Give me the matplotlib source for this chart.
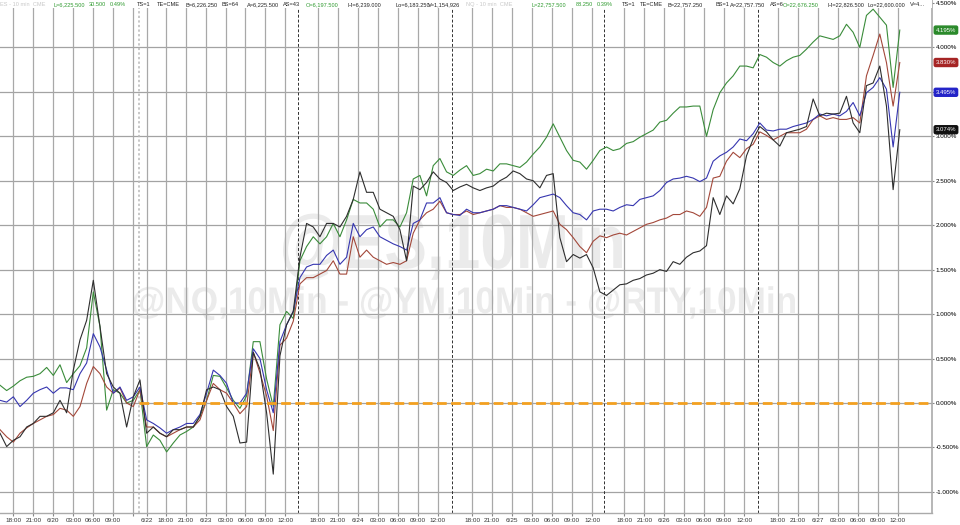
import numpy as np
import matplotlib
matplotlib.use("Agg")
import matplotlib.pyplot as plt
from matplotlib import font_manager
from matplotlib.patches import Rectangle, PathPatch
from matplotlib.textpath import TextPath
from matplotlib.transforms import Affine2D, IdentityTransform

# % change vs. reference, one reading per hour (6 ten-minute bars)
nq_green = [0.20, 0.14, 0.19, 0.25, 0.29, 0.30, 0.33, 0.40, 0.31, 0.43, 0.23, 0.33, 0.42, 0.62, 1.25, 0.86,
            -0.08, 0.15, 0.11, 0.00, 0.03, 0.15, -0.49, -0.36, -0.42, -0.55, -0.45, -0.36, -0.32, -0.27, -0.15, 0.03,
            0.31, 0.30, 0.17, 0.03, -0.06, 0.08, 0.69, 0.69, 0.27, -0.04, 0.88, 1.03, 0.95, 1.60, 1.76, 1.87,
            1.79, 1.87, 2.02, 1.87, 2.06, 2.29, 2.25, 2.25, 2.18, 1.98, 2.06, 2.06, 1.98, 2.14, 2.52, 2.56,
            2.33, 2.67, 2.75, 2.60, 2.56, 2.62, 2.67, 2.56, 2.58, 2.63, 2.61, 2.69, 2.69, 2.67, 2.65, 2.71,
            2.80, 2.88, 2.99, 3.14, 2.99, 2.84, 2.73, 2.71, 2.63, 2.73, 2.84, 2.88, 2.84, 2.86, 2.92, 2.94,
            2.99, 3.03, 3.07, 3.16, 3.18, 3.26, 3.33, 3.33, 3.34, 3.34, 3.00, 3.30, 3.49, 3.60, 3.68, 3.79,
            3.79, 3.77, 3.92, 3.89, 3.83, 3.79, 3.85, 3.89, 3.91, 3.98, 4.06, 4.13, 4.11, 4.09, 4.13, 4.26,
            4.17, 4.00, 4.36, 4.43, 4.34, 4.25, 3.55, 4.195]
ym_blue = [0.03, 0.01, 0.07, -0.04, 0.03, 0.11, 0.15, 0.18, 0.11, 0.17, 0.17, 0.15, 0.33, 0.45, 0.78, 0.63,
           0.37, 0.11, 0.18, 0.03, 0.07, 0.18, -0.19, -0.23, -0.28, -0.34, -0.30, -0.27, -0.23, -0.23, -0.13, 0.11,
           0.37, 0.31, 0.22, 0.00, 0.00, 0.11, 0.61, 0.50, 0.15, -0.11, 0.69, 0.88, 1.03, 1.41, 1.53, 1.56,
           1.56, 1.66, 1.72, 1.56, 1.64, 2.02, 1.87, 1.95, 1.98, 1.87, 1.83, 1.79, 1.76, 1.72, 2.02, 2.06,
           2.25, 2.25, 2.31, 2.14, 2.12, 2.11, 2.18, 2.14, 2.14, 2.16, 2.18, 2.22, 2.22, 2.20, 2.18, 2.16,
           2.23, 2.31, 2.33, 2.35, 2.31, 2.22, 2.14, 2.12, 2.06, 2.16, 2.18, 2.18, 2.16, 2.20, 2.23, 2.22,
           2.29, 2.31, 2.33, 2.39, 2.48, 2.52, 2.53, 2.55, 2.53, 2.49, 2.53, 2.72, 2.78, 2.82, 2.88, 2.97,
           2.95, 3.03, 3.15, 3.07, 3.06, 3.08, 3.08, 3.11, 3.13, 3.15, 3.19, 3.25, 3.23, 3.25, 3.23, 3.28,
           3.38, 3.23, 3.49, 3.55, 3.66, 3.53, 2.88, 3.495]
es_red = [-0.30, -0.38, -0.44, -0.34, -0.28, -0.23, -0.19, -0.15, -0.13, -0.06, -0.08, -0.15, -0.04, 0.22, 0.41, 0.33,
          0.18, 0.11, 0.17, 0.00, -0.04, 0.15, -0.27, -0.27, -0.34, -0.38, -0.34, -0.30, -0.27, -0.27, -0.19, 0.03,
          0.22, 0.15, 0.11, 0.00, -0.12, -0.04, 0.57, 0.34, 0.08, -0.31, 0.65, 0.73, 0.92, 1.34, 1.41, 1.41,
          1.45, 1.49, 1.60, 1.45, 1.45, 1.87, 1.64, 1.72, 1.64, 1.60, 1.56, 1.58, 1.56, 1.60, 1.91, 2.06,
          2.14, 2.18, 2.27, 2.14, 2.12, 2.12, 2.16, 2.12, 2.14, 2.16, 2.18, 2.22, 2.20, 2.20, 2.18, 2.14,
          2.10, 2.12, 2.14, 2.16, 2.01, 1.95, 1.86, 1.76, 1.69, 1.82, 1.88, 1.86, 1.89, 1.91, 1.89, 1.93,
          1.97, 2.01, 2.03, 2.06, 2.08, 2.12, 2.12, 2.16, 2.14, 2.10, 2.20, 2.53, 2.55, 2.72, 2.82, 2.76,
          2.86, 2.91, 3.05, 3.01, 2.96, 3.00, 3.04, 3.04, 3.04, 3.08, 3.19, 3.23, 3.19, 3.21, 3.19, 3.19,
          3.21, 3.15, 3.68, 3.91, 4.15, 3.83, 3.34, 3.83]
rty_black = [-0.34, -0.49, -0.42, -0.38, -0.27, -0.23, -0.15, -0.15, -0.11, 0.03, -0.11, 0.37, 0.71, 0.93, 1.38, 0.86,
             0.33, 0.18, 0.11, -0.27, 0.07, 0.26, -0.34, -0.27, -0.34, -0.38, -0.30, -0.30, -0.27, -0.27, -0.15, 0.15,
             0.18, 0.15, -0.04, -0.15, -0.45, -0.44, 0.57, 0.38, -0.11, -0.80, 0.53, 0.88, 1.03, 1.64, 2.02, 1.98,
             1.87, 2.02, 2.02, 1.98, 2.10, 2.29, 2.60, 2.37, 2.37, 2.18, 2.14, 2.10, 1.95, 1.60, 2.44, 2.40,
             2.48, 2.60, 2.52, 2.48, 2.39, 2.43, 2.46, 2.42, 2.39, 2.42, 2.44, 2.50, 2.54, 2.61, 2.58, 2.52,
             2.50, 2.42, 2.56, 2.58, 1.86, 1.59, 1.67, 1.63, 1.67, 1.52, 1.25, 1.21, 1.27, 1.33, 1.34, 1.38,
             1.40, 1.44, 1.46, 1.50, 1.48, 1.59, 1.56, 1.64, 1.69, 1.71, 1.77, 2.31, 2.12, 2.33, 2.24, 2.41,
             2.78, 2.97, 3.11, 3.05, 2.96, 2.89, 3.04, 3.06, 3.08, 3.11, 3.42, 3.23, 3.26, 3.25, 3.26, 3.45,
             3.15, 3.04, 3.57, 3.60, 3.79, 3.34, 2.40, 3.074]

bars_per_sample = 6
bars = np.arange(len(nq_green)) * bars_per_sample

# x axis (10-minute bar index)
tick_bars = [12, 30, 48, 66, 84, 102, 120, 132, 149, 167, 185, 203, 221, 239, 257,
             286, 304, 322, 340, 358, 376, 394, 425, 443, 461, 479, 497, 515, 533,
             562, 580, 598, 616, 634, 652, 670, 700, 718, 736, 754, 772, 790, 808]
tick_labels = ['18:00', '21:00', '6/20', '03:00', '06:00', '09:00', '', '6/22', '18:00', '21:00', '6/23',
               '03:00', '06:00', '09:00', '12:00', '18:00', '21:00', '6/24', '03:00', '06:00', '09:00', '12:00',
               '18:00', '21:00', '6/25', '03:00', '06:00', '09:00', '12:00', '18:00', '21:00', '6/26',
               '03:00', '06:00', '09:00', '12:00', '18:00', '21:00', '6/27', '03:00', '06:00', '09:00', '12:00']
session_breaks = [125, 268, 407, 544, 682]
y_ticks = [-1.0, -0.5, 0.0, 0.5, 1.0, 1.5, 2.0, 2.5, 3.0, 3.5, 4.0, 4.5]

header_left = [("ES - 10 min  CME", '#c8c8c8'), ("L=6,225.500", 'g'), ("30.500", 'g'), ("0.49%", 'g'),
               ("TS=1", 'k'), ("TE=CME", 'k'), ("B=6,226.250", 'k'), ("BS=64", 'k'), ("A=6,225.500", 'k'),
               ("AS=43", 'k'), ("O=6,197.500", 'g'), ("Hi=6,239.000", 'k'), ("Lo=6,183.250", 'k'),
               ("V=1,154,926", 'k'), ("NQ - 10 min  CME", '#c8c8c8')]
header_left_x = [0, 53, 89, 110, 137, 157, 185, 222, 247, 283, 306, 347, 395, 428, 466]
header_right = [("L=22,757.500", 'g'), ("88.250", 'g'), ("0.39%", 'g'), ("TS=1", 'k'), ("TE=CME", 'k'),
                ("B=22,757.250", 'k'), ("BS=1", 'k'), ("A=22,757.750", 'k'), ("AS=6", 'k'),
                ("O=22,676.250", 'g'), ("Hi=22,826.500", 'k'), ("Lo=22,600.000", 'k'), ("V=4...", 'k')]
header_right_x = [532, 576, 597, 622, 640, 668, 715, 730, 770, 783, 827, 868, 910]


def pick_font(*names):
    for n in names:
        try:
            font_manager.findfont(font_manager.FontProperties(family=n), fallback_to_default=False)
            return n
        except ValueError:
            continue
    return 'DejaVu Sans'


narrow = pick_font('Liberation Sans Narrow', 'Liberation Sans', 'DejaVu Sans')
plain = pick_font('Liberation Sans', 'DejaVu Sans')

W, H = 960, 525
fig = plt.figure(figsize=(W / 100, H / 100), dpi=100)
ax = fig.add_axes([0, 12 / H, 932 / W, 513 / H])

ymax = 403 / 88.9
ymin = (403 - 513) / 88.9
ax.set_ylim(ymin, ymax)
ax.set_xlim(0, 839)


def watermark(text, left, right, baseline, cap):
    # condensed bold text drawn as a path, in output pixels (top-left origin)
    tp = TextPath((0, 0), text, size=1, prop=font_manager.FontProperties(family=plain, weight='bold'))
    ext = tp.get_extents()
    sx = (right - left) / ext.width
    sy = cap / 0.73
    tr = Affine2D().translate(-ext.x0, 0).scale(sx, sy).translate(left, H - baseline)
    ax.add_patch(PathPatch(tr.transform_path(tp), transform=IdentityTransform(),
                           facecolor='#ebebeb', edgecolor='none', zorder=0.2, clip_on=False))


watermark("@ES,10Min", 283, 622, 268, 56)
watermark("@NQ,10Min - @YM,10Min - @RTY,10Min", 133, 795, 313, 27)

# grid
for yv in y_ticks:
    ax.axhline(yv, color='#a3a3a3', lw=0.9, zorder=0.5)
for xb in tick_bars:
    ax.axvline(xb, color='#a8a8a8', lw=0.9, zorder=0.5)
ax.axvline(session_breaks[0], color='#b8b8b8', lw=1.1, ls=(0, (1.5, 1.5)), zorder=0.6)
for xb in session_breaks[1:]:
    ax.axvline(xb, color='#303030', lw=0.7, ls=(0, (3, 2)), zorder=0.6)

ax.plot(bars, nq_green, color='#3a8c3a', lw=0.8, zorder=2)
ax.plot(bars, es_red, color='#a3483a', lw=0.8, zorder=2.1)
ax.plot(bars, ym_blue, color='#3636b0', lw=0.8, zorder=2.2)
ax.plot(bars, rty_black, color='#2e2e2e', lw=0.8, zorder=2.3)

ax.hlines(0, session_breaks[0], 839, colors='#f3a020', lw=2, linestyles=(0, (3.5, 1.6)), zorder=3)

# axes
for s in ['left', 'top']:
    ax.spines[s].set_visible(False)
ax.spines['right'].set_color('#aaaaaa')
ax.spines['right'].set_linewidth(1.2)
ax.spines['bottom'].set_color('#aaaaaa')
ax.spines['bottom'].set_linewidth(1.0)
ax.yaxis.tick_right()
ax.set_yticks(y_ticks)
ax.set_yticklabels([f"{v:.3f}%" for v in y_ticks], fontsize=4.5, family=plain)
ax.set_xticks(tick_bars)
ax.set_xticklabels(tick_labels, fontsize=4.6, family=narrow, color='#333333')
ax.tick_params(axis='y', length=1.5, pad=1.2, color='#888888')
ax.tick_params(axis='x', length=2, pad=1.5, color='#888888')

# last-value tags
tags = [(nq_green[-1], '#2b8a2b'), (es_red[-1], '#a52424'), (ym_blue[-1], '#2424c8'), (rty_black[-1], '#111111')]
for val, col in tags:
    ax.text(1.004, val, f"{val:.3f}%", transform=ax.get_yaxis_transform(), ha='left', va='center',
            fontsize=4.3, family=plain, color='white', zorder=5, clip_on=False,
            bbox=dict(boxstyle='round,pad=0.25', fc=col, ec=col))

# header strip
fig.patches.append(Rectangle((0, (H - 8) / H), 932 / W, 8 / H, transform=fig.transFigure,
                             facecolor='white', edgecolor='none', zorder=10))
colors = {'g': '#2f9a2f', 'k': '#222222'}
for (txt, c), xp in zip(header_left + header_right, header_left_x + header_right_x):
    fig.text(xp / W, (H - 4.5) / H, txt, fontsize=4.1, family=narrow, color=colors.get(c, c),
             ha='left', va='center', zorder=11)

fig.savefig('out.png', dpi=100)
